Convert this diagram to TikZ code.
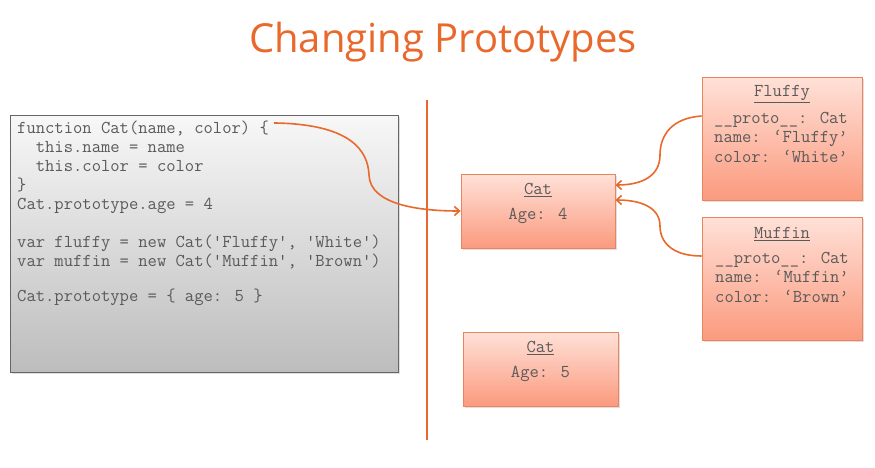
\documentclass[tikz,border=0pt]{standalone}
\usepackage{fontspec}
\usetikzlibrary{shadows,calc,arrows.meta}
\newfontfamily\codefont{Latin Modern Mono}
\newfontfamily\titlefont{Open Sans}
\definecolor{accent}{HTML}{E9692C}
\definecolor{boxline}{HTML}{E8855E}
\definecolor{boxtop}{HTML}{FFE1D8}
\definecolor{boxbottom}{HTML}{FB9A7E}
\definecolor{codetext}{HTML}{5A5A5A}
\tikzset{
  objbox/.style={draw=boxline, line width=0.8pt, top color=boxtop, bottom color=boxbottom,
    drop shadow={shadow xshift=1.5pt, shadow yshift=-1.5pt, opacity=0.25}},
  codebox/.style={draw=black!60, line width=0.8pt, top color=black!3, bottom color=black!26,
    drop shadow={shadow xshift=1.5pt, shadow yshift=-1.5pt, opacity=0.25}},
  mono/.style={font=\codefont\fontsize{18.1}{19}\selectfont, text=codetext, inner sep=0pt},
  codeline/.style={mono, anchor=base west},
  link/.style={draw=accent, line width=1.6pt, -{Straight Barb[length=5pt,width=9pt]}},
}
\begin{document}
\begin{tikzpicture}[x=1pt,y=-1pt]
\useasboundingbox (0,0) rectangle (875,467);
\fill[white] (0,0) rectangle (875,467);

% heading
\node[font=\titlefont\fontsize{40}{44}\selectfont, text=accent] (title) at (443,42) {Changing Prototypes};

% source listing
\node[codebox, minimum width=388pt, minimum height=257pt, anchor=north west] (code) at (10,115) {};
\node[codeline] (c1) at (17,133) {function Cat(name, color) \{};
\node[codeline] (c2) at (17,152) {\phantom{xx}this.name = name};
\node[codeline] (c3) at (17,171) {\phantom{xx}this.color = color};
\node[codeline] (c4) at (17,190) {\}};
\node[codeline] (c5) at (17,209) {Cat.prototype.age = 4};
\node[codeline] (c6) at (17,247) {var fluffy = new Cat('Fluffy', 'White')};
\node[codeline] (c7) at (17,266) {var muffin = new Cat('Muffin', 'Brown')};
\node[codeline] (c8) at (17,301) {Cat.prototype = \{ age: 5 \}};

% divider
\draw[accent, line width=1.6pt] (427,100) -- (427,440);

% prototype objects
\node[objbox, minimum width=154pt, minimum height=74pt] (cat1) at (538,211) {};
\node[mono] (cat1name) at (538,190) {\underline{Cat}};
\node[mono] (cat1age) at (538,216) {Age: 4};

\node[objbox, minimum width=155pt, minimum height=74pt] (cat2) at (540.5,369) {};
\node[mono] (cat2name) at (540.5,348) {\underline{Cat}};
\node[mono] (cat2age) at (540.5,374) {Age: 5};

% instances
\node[objbox, minimum width=160pt, minimum height=123pt] (fluffy) at (782,138.5) {};
\node[mono] (fluffyname) at (782,94) {\underline{Fluffy}};
\node[mono, align=center, font=\codefont\fontsize{18.1}{19.5}\selectfont] (fluffybody) at (781,137) {\_\_proto\_\_: Cat\\name: ‘Fluffy’\\color: ‘White’};

\node[objbox, minimum width=160pt, minimum height=123pt] (muffin) at (782,278.5) {};
\node[mono] (muffinname) at (782,234) {\underline{Muffin}};
\node[mono, align=center, font=\codefont\fontsize{18.1}{19.5}\selectfont] (muffinbody) at (782,277) {\_\_proto\_\_: Cat\\name: ‘Muffin’\\color: ‘Brown’};

% links
\coordinate (fnend) at ($(c1.east)+(5,-5)$);
\draw[link] (fnend) .. controls (350,124) and (368,150) .. (369,175)
  .. controls (370,205) and (420,211) .. (cat1.west);
\draw[link] ([yshift=22.5pt]fluffy.west) .. controls (672,118) and (660,135) .. (660,155)
  .. controls (660,176) and (642,185) .. ([yshift=26pt]cat1.east);
\draw[link] ([yshift=22.5pt]muffin.west) .. controls (672,256) and (660,242) .. (660,226)
  .. controls (660,208) and (642,200) .. ([yshift=11pt]cat1.east);
\end{tikzpicture}
\end{document}
